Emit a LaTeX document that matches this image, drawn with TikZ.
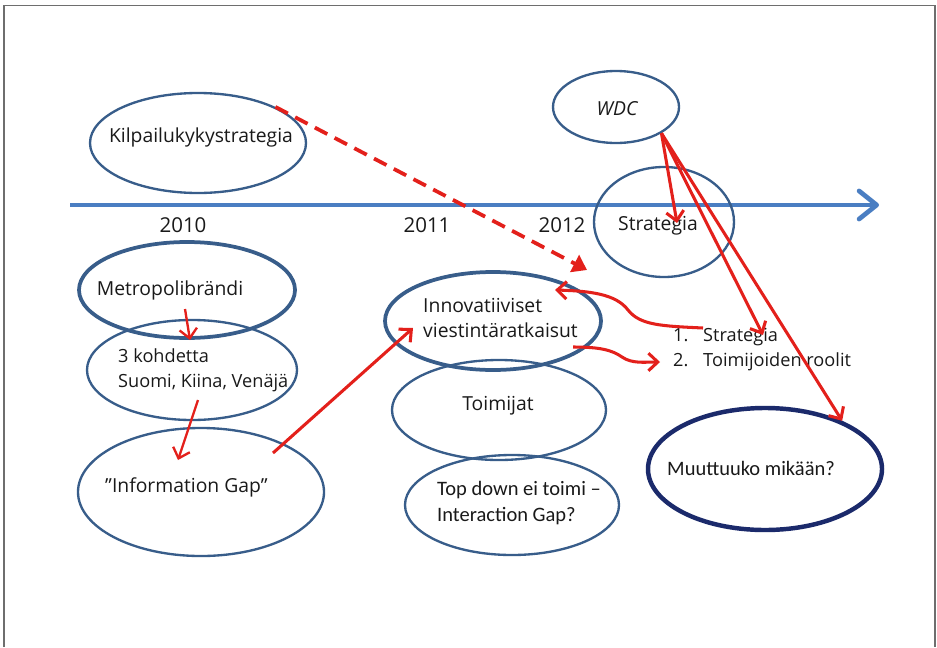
\documentclass[tikz,border=0pt]{standalone}
\usepackage{fontspec}
\setmainfont{Open Sans}
\newfontfamily\calfont{Carlito}
\usetikzlibrary{positioning,shapes.geometric,arrows.meta}

\definecolor{ovalblue}{HTML}{385D8A}
\definecolor{navyblue}{HTML}{1B2A6B}
\definecolor{lineblue}{HTML}{4A7EC2}
\definecolor{arrowred}{HTML}{E3201B}
\definecolor{framegray}{HTML}{6E6E6E}

\tikzset{
  oval/.style={ellipse, draw=ovalblue, line width=2pt, inner sep=0pt},
  thickoval/.style={oval, line width=3.2pt},
  txt/.style={font=\fontsize{16.5}{21}\selectfont, inner sep=0pt, align=left, text=black!90},
  smalltxt/.style={txt, font=\fontsize{15.5}{21}\selectfont},
  caltxt/.style={txt, font=\calfont\fontsize{17.5}{23}\selectfont},
  redarrow/.style={draw=arrowred, line width=2.6pt, -{Straight Barb[length=8pt,width=15pt]}},
}

\begin{document}
\begin{tikzpicture}[x=0.03cm, y=-0.03cm]
\useasboundingbox (0,0) rectangle (937,647);

% frame
\draw[framegray, line width=1.6pt] (4,647) -- (4,5.5) -- (935,5.5) -- (935,647);

% time line
\coordinate (tstart) at (70,205);
\coordinate (tend) at (879,205);
\draw[lineblue, line width=4pt, -{Straight Barb[length=15pt,width=24pt,round]}] (tstart) -- (tend);
\node[txt, font=\fontsize{17.5}{21}\selectfont] (y2010) at (183,225) {2010};
\node[txt, font=\fontsize{17.5}{21}\selectfont] (y2011) at (427,225) {2011};
\node[txt, font=\fontsize{17.5}{21}\selectfont] (y2012) at (562,225) {2012};

% ovals
\node[oval, minimum width=6.48cm, minimum height=3cm] (kilpa) at (198,143) {};
\node[txt] (kilpa-t) at (201,137) {Kilpailukykystrategia};

\node[oval, minimum width=3.78cm, minimum height=2.16cm] (wdc) at (616,107) {};
\node[txt, font=\itshape\fontsize{16.5}{21}\selectfont] (wdc-t) at (617,109) {WDC};

\node[oval, minimum width=4.2cm, minimum height=3.3cm] (strat) at (664,222) {};
\node[txt] (strat-t) at (658,226) {Strategia};

\node[thickoval, minimum width=6.48cm, minimum height=2.88cm] (metro) at (187,290) {};
\node[txt] (metro-t) at (170,290) {Metropolibrändi};

\node[oval, minimum width=6.3cm, minimum height=3cm] (kohde) at (192,370) {};
\node[smalltxt, anchor=west] (kohde-t) at (118,370) {3 kohdetta\\Suomi, Kiina, Venäjä};

\node[oval, minimum width=7.38cm, minimum height=3.84cm] (infogap) at (201,492) {};
\node[txt, anchor=west] (infogap-t) at (105,487) {”Information Gap”};

\node[thickoval, minimum width=6.48cm, minimum height=2.94cm] (innov) at (493,321) {};
\node[txt, anchor=west] (innov-t) at (423,318) {Innovatiiviset\\viestintäratkaisut};

\node[oval, minimum width=6.42cm, minimum height=3cm] (toimijat) at (499,410) {};
\node[txt] (toimijat-t) at (498,406) {Toimijat};

\node[oval, minimum width=6.42cm, minimum height=3cm] (topdown) at (512,505) {};
\node[caltxt, anchor=west] (topdown-t) at (437,503) {Top down ei toimi –\\Interaction Gap?};

\node[oval, draw=navyblue, line width=3.8pt, minimum width=7.02cm, minimum height=3.66cm] (muutt) at (765,469) {};
\node[caltxt, anchor=west] (muutt-t) at (667,468) {Muuttuuko mikään?};

% list
\node[smalltxt, anchor=west] (item1) at (673,337) {\makebox[0.9cm][l]{1.}Strategia};
\node[smalltxt, anchor=west] (item2) at (673,362) {\makebox[0.9cm][l]{2.}Toimijoiden roolit};

% arrow ends
\coordinate (dash-end) at (587,270);
\coordinate (strat-in) at (677,223);
\coordinate (item1-in) at (763,335);
\coordinate (metro-out) at (185,309);
\coordinate (kohde-in) at (190,340);
\coordinate (kohde-out) at (198,400);
\coordinate (infogap-in) at (178,460);
\coordinate (infogap-out) at (273,453);
\coordinate (innov-in) at (413,328);
\coordinate (item1-out) at (703,328);
\coordinate (innov-tip) at (555,290);
\coordinate (innov-out) at (573,347);
\coordinate (item2-in) at (660,362);

% arrows
\draw[draw=arrowred, line width=3.2pt, dash pattern=on 12pt off 7pt, -{Triangle[length=12pt,width=16pt]}] (kilpa.25) -- (dash-end);
\draw[redarrow] (wdc.-30) -- (strat-in);
\draw[redarrow] (wdc.-30) -- (item1-in);
\draw[redarrow] (wdc.-30) -- (muutt.32);
\draw[redarrow, line width=2pt] (metro-out) -- (kohde-in);
\draw[redarrow, line width=2pt] (kohde-out) -- (infogap-in);
\draw[redarrow] (infogap-out) -- (innov-in);
\draw[redarrow] (item1-out) .. controls (660,326) and (640,325) .. (628,310)
  .. controls (616,294) and (590,291) .. (innov-tip);
\draw[redarrow] (innov-out) .. controls (600,347) and (612,350) .. (622,357)
  .. controls (632,364) and (645,362) .. (item2-in);
\end{tikzpicture}
\end{document}
